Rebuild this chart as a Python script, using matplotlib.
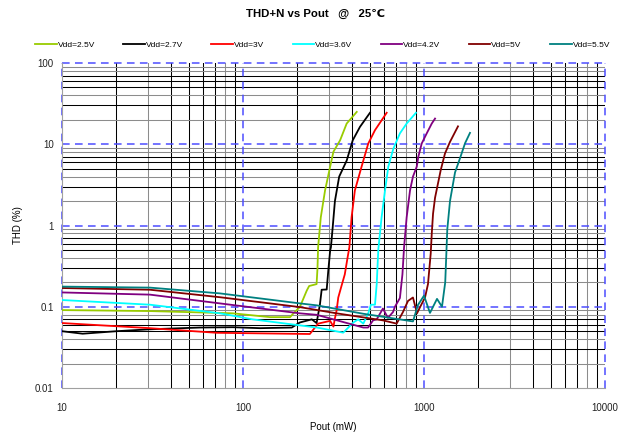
import matplotlib
matplotlib.use("Agg")
import matplotlib.pyplot as plt
import numpy as np

plt.rcParams['font.family'] = ['Liberation Sans', 'DejaVu Sans']

labels = ["Vdd=2.5V", "Vdd=2.7V", "Vdd=3V", "Vdd=3.6V", "Vdd=4.2V", "Vdd=5V", "Vdd=5.5V"]
colors = ["#99cc00", "#000000", "#ff0000", "#00ffff", "#800080", "#800000", "#008080"]

x_25 = [10, 30.6, 88, 141, 182, 190, 206, 225, 232, 255, 258, 260, 269, 284, 303, 316, 344, 374, 425]
y_25 = [0.091, 0.0885, 0.083, 0.0745, 0.0745, 0.083, 0.099, 0.158, 0.18, 0.19, 0.3, 0.54, 1.26, 2.7, 5.3, 8.1, 11.2, 18, 25]

x_27 = [10, 13, 20, 30.6, 57.8, 88, 124, 186, 206, 240, 255, 266, 272, 290, 296, 303, 306, 313, 322, 340, 374, 404, 443, 503]
y_27 = [0.05, 0.0466, 0.05, 0.0528, 0.0555, 0.056, 0.0545, 0.0555, 0.064, 0.07, 0.063, 0.106, 0.162, 0.163, 0.28, 0.49, 0.54, 0.95, 2.0, 4.0, 6.3, 11.2, 16.4, 24.4]

x_30 = [10, 30.6, 71.6, 234, 260, 303, 316, 322, 329, 336, 350, 365, 378, 387, 398, 415, 452, 492, 536, 622]
y_30 = [0.063, 0.0545, 0.0478, 0.0462, 0.062, 0.067, 0.057, 0.072, 0.09, 0.13, 0.18, 0.25, 0.4, 0.54, 1.26, 2.7, 5.3, 10.2, 14.9, 24.4]

x_36 = [10, 30.6, 74.6, 113, 206, 256, 358, 407, 433, 462, 492, 509, 536, 548, 559, 583, 609, 635, 677, 736, 802, 903]
y_36 = [0.121, 0.106, 0.083, 0.07, 0.059, 0.0555, 0.048, 0.064, 0.07, 0.062, 0.083, 0.106, 0.106, 0.19, 0.5, 1.26, 2.7, 5.3, 8.8, 13.6, 18, 24.4]

x_42 = [10, 30.6, 88, 206, 256, 462, 491, 523, 548, 593, 632, 674, 691, 736, 760, 776, 802, 837, 869, 912, 930, 971, 1035, 1104, 1151]
y_42 = [0.150, 0.141, 0.105, 0.083, 0.0795, 0.0555, 0.0555, 0.068, 0.07, 0.095, 0.073, 0.086, 0.1, 0.128, 0.25, 0.54, 1.26, 2.7, 4.0, 5.3, 7.0, 10.2, 13.6, 18.0, 20.7]

x_50 = [10, 30.6, 74.6, 206, 329, 593, 706, 765, 816, 869, 915, 951, 1013, 1052, 1089, 1104, 1122, 1151, 1237, 1306, 1392, 1541]
y_50 = [0.17, 0.162, 0.131, 0.099, 0.083, 0.068, 0.062, 0.086, 0.118, 0.13, 0.083, 0.099, 0.13, 0.19, 0.45, 0.8, 1.4, 2.2, 4.8, 7.7, 10.7, 16.6]

x_55 = [10, 30.6, 74.6, 206, 256, 462, 869, 926, 1000, 1079, 1180, 1257, 1310, 1345, 1392, 1484, 1580, 1686, 1795]
y_55 = [0.177, 0.172, 0.146, 0.11, 0.104, 0.082, 0.066, 0.105, 0.137, 0.084, 0.125, 0.1, 0.2, 0.9, 2.0, 4.5, 6.7, 10.3, 13.8]

series_x = [x_25, x_27, x_30, x_36, x_42, x_50, x_55]
series_y = [y_25, y_27, y_30, y_36, y_42, y_50, y_55]

x_ticks = [10, 100, 1000, 10000]
x_ticklabels = ["10", "100", "1000", "10000"]
y_ticks = [0.01, 0.1, 1, 10, 100]
y_ticklabels = ["0.01", "0.1", "1", "10", "100"]

fig = plt.figure(figsize=(6.18, 4.33), dpi=100)
ax = fig.add_axes([62/618, 1-388/433, (605-62)/618, (388-63)/433])
ax.set_xscale('log')
ax.set_yscale('log')
ax.set_xlim(10, 10000)
ax.set_ylim(0.01, 100)

grey = "#8c8c8c"
xcol = {2: 'k', 3: grey, 4: 'k', 5: 'k', 6: 'k', 7: 'k', 8: grey, 9: 'k'}
ycol = {2: grey, 3: 'k', 4: grey, 5: 'k', 6: 'k', 7: 'k', 8: grey, 9: grey}
for d in [10, 100, 1000]:
    for m in range(2, 10):
        ax.axvline(d*m, color=xcol[m], lw=0.75, zorder=1)
for d in [0.01, 0.1, 1, 10]:
    for m in range(2, 10):
        ax.axhline(d*m, color=ycol[m], lw=0.75, zorder=1)
dash = (0, (5, 3.5))
for v in [10, 100, 1000, 10000]:
    ax.axvline(v, color="#4d4dff", lw=1.1, ls=dash, zorder=2, clip_on=False)
for v in [0.1, 1, 10, 100]:
    ax.axhline(v, color="#4d4dff", lw=1.1, ls=dash, zorder=2, clip_on=False)

for xs, ys, c, lab in zip(series_x, series_y, colors, labels):
    ax.plot(xs, ys, color=c, lw=1.3, label=lab, zorder=3)

for s in ax.spines.values():
    s.set_color("#a0a0a0")
    s.set_linewidth(0.8)
ax.spines['top'].set_visible(False)
ax.spines['right'].set_visible(False)

ax.set_xticks(x_ticks)
ax.set_xticklabels(x_ticklabels)
ax.set_yticks(y_ticks)
ax.set_yticklabels(y_ticklabels)
ax.minorticks_off()
ax.tick_params(length=0, labelsize=7, colors="#222222", pad=6)
ax.tick_params(axis='x', pad=11)

ax.set_xlabel("Pout (mW)", fontsize=7)
ax.xaxis.set_label_coords(0.5, -(422-388)/325, transform=ax.transAxes)
ax.set_ylabel("THD (%)", fontsize=7)
ax.yaxis.set_label_coords(-(62-23)/543, 0.5)

fig.text(316/618, 1-14/433, "THD+N vs Pout   @   25℃", ha='center', va='center',
         fontsize=8.2, fontweight='bold')

leg = fig.legend(loc='lower left', bbox_to_anchor=(35/618, 1-49/433, 575/618, 10/433),
                 ncol=7, mode='expand', frameon=False, fontsize=6,
                 handlelength=2.6, handletextpad=0.1, borderaxespad=0, borderpad=0)

fig.savefig("out.png", dpi=100)
